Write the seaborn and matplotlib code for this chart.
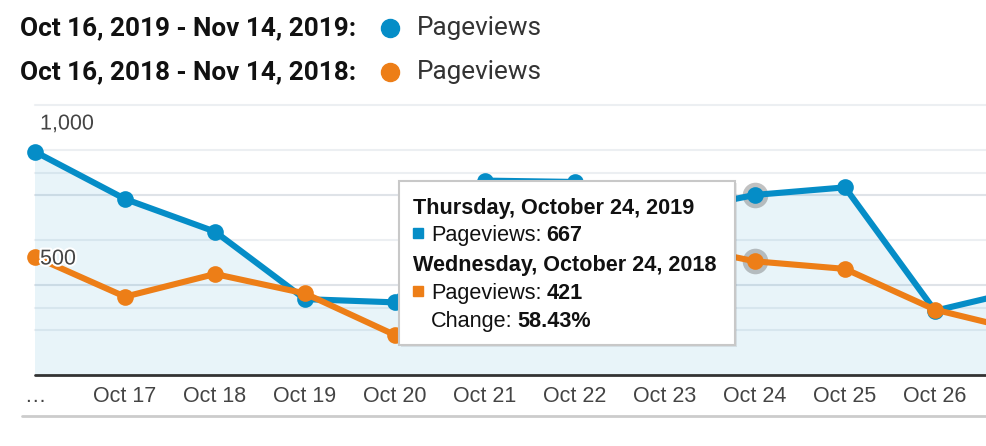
import numpy as np
import pandas as pd
import matplotlib
matplotlib.use('Agg')
import matplotlib.pyplot as plt
import matplotlib.patheffects as pe
from matplotlib.lines import Line2D
from matplotlib.patches import Rectangle
import seaborn as sns

sns.set_style('white')
plt.rcParams['font.family'] = ['Liberation Sans', 'DejaVu Sans']

# data (Oct 16 .. Oct 27, last point runs off the right edge)
dates = ['Oct 16', 'Oct 17', 'Oct 18', 'Oct 19', 'Oct 20', 'Oct 21',
         'Oct 22', 'Oct 23', 'Oct 24', 'Oct 25', 'Oct 26', 'Oct 27']
views_2019 = [827, 652, 531, 281, 269, 720, 715, 600, 667, 695, 238, 317]
views_2018 = [438, 290, 374, 302, 148, 330, 440, 490, 421, 393, 242, 161]
x_labels = ['…', 'Oct 17', 'Oct 18', 'Oct 19', 'Oct 20', 'Oct 21',
            'Oct 22', 'Oct 23', 'Oct 24', 'Oct 25', 'Oct 26']
grid_vals = [167, 250, 333, 500, 667, 750, 833, 1000]
y_labels = {1000: '1,000', 500: '500'}

BLUE = '#058dc7'
ORANGE = '#ed7e17'
W, H = 986, 446


def px(x, y):
    return x / W, 1 - y / H


df = pd.DataFrame({
    'idx': list(range(len(dates))) * 2,
    'views': views_2019 + views_2018,
    'period': ['2019'] * len(dates) + ['2018'] * len(dates),
})

fig = plt.figure(figsize=(W / 100, H / 100), dpi=100)
ax = fig.add_axes([35 / W, (H - 375) / H, (W - 35) / W, 270 / H])
xmax = (W - 35) / 90
ax.set_xlim(0, xmax)
ax.set_ylim(0, 1000)
for s in ax.spines.values():
    s.set_visible(False)

# gridlines
for g in grid_vals:
    dark = g in (333, 667)
    ax.axhline(g, color='#dfe3e8' if dark else '#eceff2', lw=1.5, zorder=0)

# area under this year's line
ax.fill_between(range(len(dates)), views_2019, 0, color=BLUE, alpha=0.09, lw=0, zorder=1)

# hover halo on Oct 24
ax.scatter([8, 8], [views_2019[8], views_2018[8]], s=340, color='#666666', alpha=0.4,
           lw=0, zorder=2, clip_on=False)

sns.lineplot(data=df, x='idx', y='views', hue='period', hue_order=['2019', '2018'],
             palette={'2019': BLUE, '2018': ORANGE}, marker='o', markersize=12,
             markeredgewidth=0, linewidth=4.4, legend=False, ax=ax, zorder=3)
for ln in ax.lines:
    ln.set_clip_on(False)
    ln.set_solid_capstyle('round')
    ln.set_solid_joinstyle('round')

ax.axhline(0, color='#333333', lw=2, zorder=4, clip_on=False)

# axes labels
ax.set_xticks(range(len(x_labels)))
ax.set_xticklabels(x_labels, fontsize=15.5, color='#444444')
ax.tick_params(axis='x', length=0, pad=8)
ax.set_yticks([])
ax.set_xlabel('')
ax.set_ylabel('')
for v, lab in y_labels.items():
    ax.annotate(lab, xy=(0, v), xytext=(5, -19), textcoords='offset pixels',
                fontsize=15.5, color='#444444', ha='left', va='center', zorder=5,
                path_effects=[pe.withStroke(linewidth=3, foreground='white')])

# bottom rule
fig.add_artist(Line2D([22 / W, 1], [1 - 416 / H] * 2, color='#cccccc', lw=2,
                      transform=fig.transFigure))

# legend at the top
for yy, lab, col in [(28, 'Oct 16, 2019 - Nov 14, 2019:', BLUE),
                     (72, 'Oct 16, 2018 - Nov 14, 2018:', ORANGE)]:
    fig.text(*px(20, yy), lab, family='Roboto', fontweight='bold', fontsize=18.8,
             color='#111111', va='center', ha='left')
    fig.add_artist(Line2D([390 / W], [1 - yy / H], marker='o', markersize=13,
                          color=col, lw=0, transform=fig.transFigure))
    fig.text(*px(417, yy), 'Pageviews', family='Roboto', fontsize=18.8,
             color='#333333', va='center', ha='left')

# tooltip
x0, y0, x1, y1 = 399, 181, 735, 345
fig.add_artist(Rectangle(px(x0 + 2, y1 + 2), (x1 - x0) / W, (y1 - y0) / H,
                         transform=fig.transFigure, color='#000000', alpha=0.08, lw=0))
fig.add_artist(Rectangle(px(x0, y1), (x1 - x0) / W, (y1 - y0) / H,
                         transform=fig.transFigure, facecolor='white',
                         edgecolor='#c8c8c8', lw=1.5))

renderer = fig.canvas.get_renderer()


def runs(x, y, parts, size=15.6):
    for txt, wt in parts:
        t = fig.text(*px(x, y), txt, fontsize=size, fontweight=wt,
                     color='#111111', va='baseline', ha='left')
        x = t.get_window_extent(renderer=renderer).x1 + 5


runs(413, 214, [('Thursday, October 24, 2019', 'bold')])
runs(431, 241, [('Pageviews:', 'normal'), ('667', 'bold')])
runs(413, 271, [('Wednesday, October 24, 2018', 'bold')])
runs(431, 299, [('Pageviews:', 'normal'), ('421', 'bold')])
runs(431, 327, [('Change:', 'normal'), ('58.43%', 'bold')])
for yy, col in [(233, BLUE), (291, ORANGE)]:
    fig.add_artist(Line2D([418 / W], [1 - yy / H], marker='s', markersize=6.5,
                          color=col, lw=0, transform=fig.transFigure))

fig.savefig('out.png', dpi=100)
